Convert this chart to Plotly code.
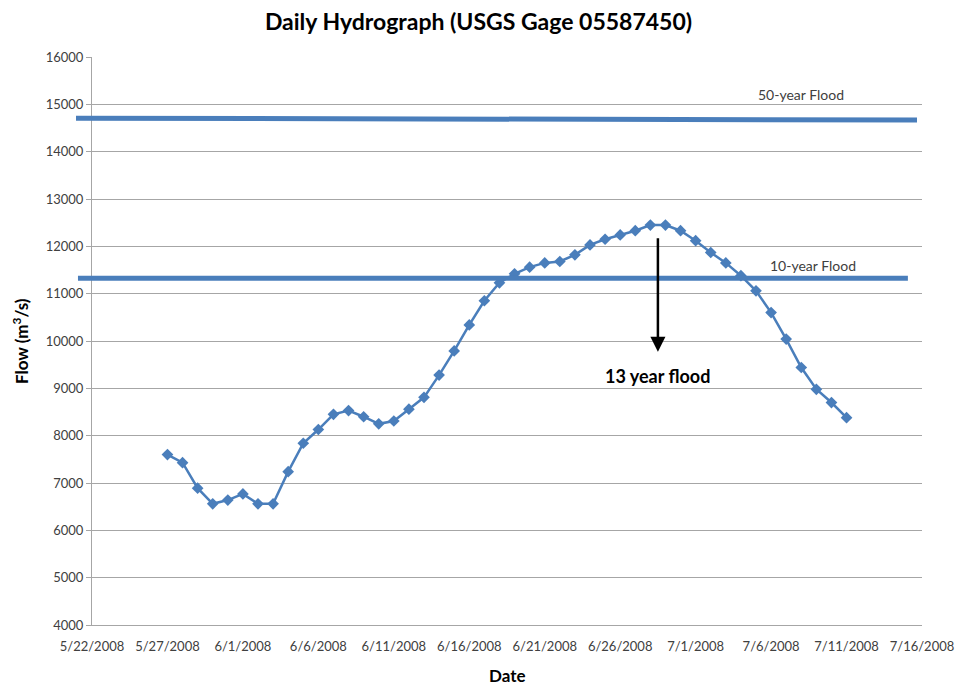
import plotly.graph_objects as go
import pandas as pd

# ---- data ----
start_date = "2008-05-27"
flow = [7600, 7430, 6890, 6560, 6640,
        6770, 6560, 6560, 7240, 7840, 8130, 8450, 8530, 8400, 8250,
        8310, 8560, 8810, 9280, 9790, 10340, 10850, 11230, 11420, 11560,
        11650, 11680, 11820, 12030, 12150, 12240, 12330, 12450, 12450, 12330,
        12120, 11870, 11650, 11380, 11060, 10600, 10040, 9440, 8980, 8700, 8380]
dates = pd.date_range(start_date, periods=len(flow), freq="D")

flood_50_left, flood_50_right = 14706, 14670
flood_10 = 11325
flood_labels = ["50-year Flood", "10-year Flood"]

tick_dates = pd.date_range("2008-05-22", "2008-07-16", freq="5D")
tick_text = [f"{d.month}/{d.day}/{d.year}" for d in tick_dates]

arrow_x = "2008-06-28 12:00"
arrow_top, arrow_tip = 12204, 9774
arrow_label = "13 year flood"

BLUE = "#4A7EBB"
FONT = "Lato"

fig = go.Figure()
fig.add_trace(go.Scatter(
    x=dates, y=flow, mode="lines+markers",
    line=dict(color=BLUE, width=2.5),
    marker=dict(symbol="diamond", size=9, color=BLUE),
    showlegend=False, hoverinfo="x+y",
))

# flood level lines (extend slightly beyond plot area as in the original)
fig.add_shape(type="line", xref="paper", yref="y", x0=-0.0193, x1=0.994,
              y0=flood_50_left, y1=flood_50_right,
              line=dict(color=BLUE, width=5), layer="above")
fig.add_shape(type="line", xref="paper", yref="y", x0=-0.0169, x1=0.983,
              y0=flood_10, y1=flood_10,
              line=dict(color=BLUE, width=5), layer="above")

annotations = [
    dict(x=0.854, y=15200, xref="paper", yref="y", xanchor="center", text=flood_labels[0],
         showarrow=False, font=dict(family=FONT, size=14, color="#404040")),
    dict(x=0.869, y=11590, xref="paper", yref="y", xanchor="center", text=flood_labels[1],
         showarrow=False, font=dict(family=FONT, size=14, color="#404040")),
    dict(x=arrow_x, y=arrow_tip, ax=arrow_x, ay=arrow_top, xref="x", yref="y",
         axref="x", ayref="y", text="", showarrow=True, arrowhead=2,
         arrowsize=1.2, arrowwidth=2.5, arrowcolor="black"),
    dict(x=arrow_x, y=9270, xref="x", yref="y", xanchor="center",
         text="<b>" + arrow_label + "</b>",
         showarrow=False, font=dict(family=FONT, size=18, color="black")),
    dict(x=-0.0867, y=0.5, xref="paper", yref="paper", textangle=-90,
         xanchor="center", yanchor="middle",
         text="<b>Flow (m<sup>3</sup>/s)</b>", showarrow=False,
         font=dict(family=FONT, size=17, color="black")),
    dict(x=0.5, y=-0.089, xref="paper", yref="paper", xanchor="center", yanchor="middle",
         text="<b>Date</b>", showarrow=False,
         font=dict(family=FONT, size=17, color="black")),
]

fig.update_layout(
    width=957, height=687,
    margin=dict(l=92, r=35, t=57, b=62, autoexpand=False),
    paper_bgcolor="white", plot_bgcolor="white",
    title=dict(text="<b>Daily Hydrograph (USGS Gage 05587450)</b>",
               x=0.5, xanchor="center", y=0.968, yanchor="middle",
               font=dict(family=FONT, size=23, color="black")),
    font=dict(family=FONT, size=13, color="#404040"),
    annotations=annotations,
    showlegend=False,
)
fig.update_xaxes(
    type="date", range=[tick_dates[0], tick_dates[-1]],
    tickvals=tick_dates, ticktext=tick_text, ticks="",
    showgrid=False, showline=True, linecolor="#a6a6a6", linewidth=1,
    zeroline=False, ticklabelstandoff=9, automargin=False,
    tickfont=dict(family=FONT, size=13, color="#404040"),
)
fig.update_yaxes(
    range=[4000, 16000], dtick=1000, tick0=4000,
    showgrid=True, gridcolor="#a6a6a6", gridwidth=1,
    showline=True, linecolor="#a6a6a6", linewidth=1,
    ticks="outside", ticklen=5, tickcolor="#a6a6a6",
    zeroline=False, tickformat="d", automargin=False,
    tickfont=dict(family=FONT, size=13, color="#404040"),
)

fig.write_html("out.html", config={"displayModeBar": False},
               post_script="document.body.style.margin='0';document.body.style.overflow='hidden';")
